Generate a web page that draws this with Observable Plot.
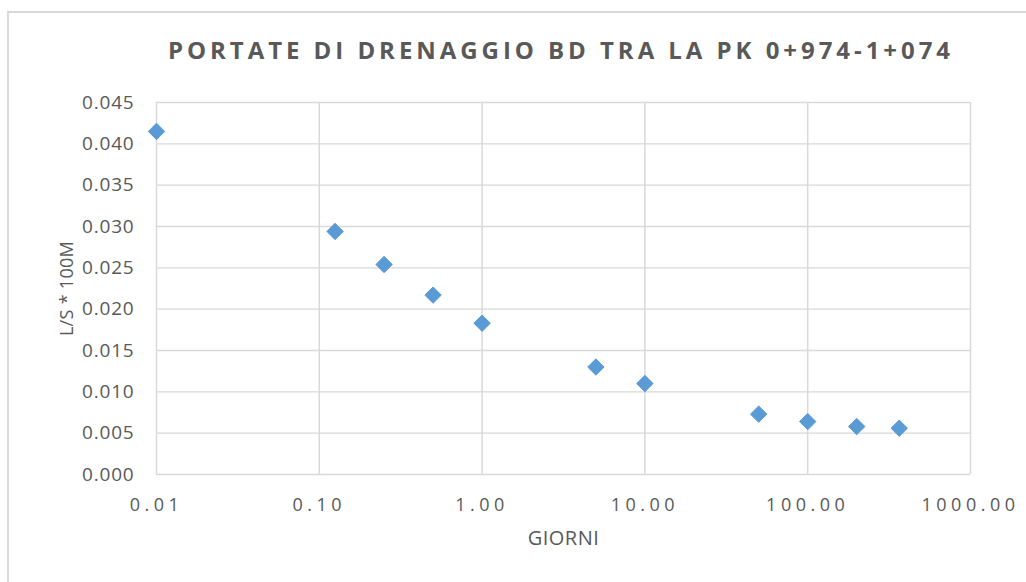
<!DOCTYPE html>
<html><head><meta charset="utf-8">
<script src="https://cdn.jsdelivr.net/npm/d3@7"></script>
<script src="https://cdn.jsdelivr.net/npm/@observablehq/plot@0.6"></script>
<style>
html,body{margin:0;padding:0;background:#fff;overflow:hidden;}
#wrap{position:relative;width:1026px;height:582px;overflow:hidden;font-family:"Open Sans",sans-serif;}
#border{position:absolute;left:7px;top:11px;width:1100px;height:700px;border:2px solid #d9d9d9;box-sizing:border-box;}
#title{position:absolute;left:0;top:33px;width:1122px;text-align:center;font-size:24px;font-weight:700;letter-spacing:3.95px;color:#595959;white-space:nowrap;}
#chart{position:absolute;left:0;top:0;}
#chart svg [aria-label="x-axis tick label"] text{letter-spacing:4.5px;}
#chart svg [aria-label="y-axis tick label"] text{font-size:19px;letter-spacing:0.8px;}
#chart svg [aria-label="y-axis label"] text{font-size:18px;letter-spacing:0.3px;}
#chart svg [aria-label="x-axis label"] text{font-size:20px;letter-spacing:0.5px;}
</style>
</head><body>
<div id="wrap"><div id="border"></div><div id="title"></div><div id="chart"></div></div>
<script>
const titleText = "PORTATE DI DRENAGGIO BD TRA LA PK 0+974-1+074";
const xLabel = "GIORNI";
const yLabel = "L/S * 100M";
const giorni = [0.01, 0.125, 0.25, 0.5, 1, 5, 10, 50, 100, 200, 365];
const portata = [0.0415, 0.0294, 0.0254, 0.0217, 0.0183, 0.0130, 0.0110, 0.0073, 0.0064, 0.0058, 0.0056];
const xTicks = [0.01, 0.1, 1, 10, 100, 1000];
const xTickLabels = ["0.01", "0.10", "1.00", "10.00", "100.00", "1000.00"];
const yTicks = [0, 0.005, 0.01, 0.015, 0.02, 0.025, 0.03, 0.035, 0.04, 0.045];
const yTickLabels = ["0.000", "0.005", "0.010", "0.015", "0.020", "0.025", "0.030", "0.035", "0.040", "0.045"];

document.getElementById("title").textContent = titleText;
const data = giorni.map((g, i) => ({giorni: g, portata: portata[i]}));

const plot = Plot.plot({
  width: 1026, height: 582,
  marginLeft: 156, marginRight: 56, marginTop: 102, marginBottom: 108,
  style: {background: "transparent", fontFamily: "Open Sans, sans-serif", fontSize: "18px", color: "#595959"},
  x: {type: "log", domain: [0.01, 1000], ticks: xTicks, tickFormat: d => xTickLabels[xTicks.indexOf(d)],
      label: xLabel, labelAnchor: "center", labelOffset: 70, labelArrow: "none", tickSize: 0, tickPadding: 24},
  y: {domain: [0, 0.045], ticks: yTicks, tickFormat: d => yTickLabels[yTicks.indexOf(d)],
      label: yLabel, labelAnchor: "center", labelOffset: 96, labelArrow: "none", tickSize: 0, tickPadding: 22},
  marks: [
    Plot.gridY(yTicks, {stroke: "#d9d9d9", strokeOpacity: 1, strokeWidth: 1.3}),
    Plot.gridX(xTicks, {stroke: "#d9d9d9", strokeOpacity: 1, strokeWidth: 1.5}),
    Plot.dot(data, {x: "giorni", y: "portata", symbol: "diamond2", r: 7.4, fill: "#5B9BD5", stroke: "#5B9BD5", strokeWidth: 1})
  ]
});
document.getElementById("chart").appendChild(plot);
</script>
</body></html>
